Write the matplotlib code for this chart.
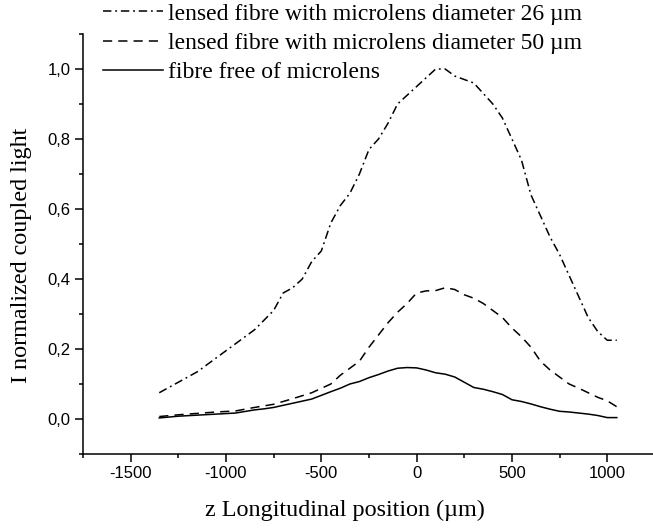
import numpy as np
import matplotlib.pyplot as plt
from matplotlib.ticker import MultipleLocator, FuncFormatter

# lensed fibre, microlens diameter 26 um
x_26 = [-1350, -1250, -1150, -1050, -1000, -950, -850, -750, -700, -650, -600,
        -550, -500, -450, -400, -350, -300, -250, -200, -150, -100, -50, 0, 50,
        100, 150, 200, 250, 300, 350, 400, 450, 500, 550, 600, 650, 700, 750,
        800, 850, 900, 950, 1000, 1050]
y_26 = [0.075, 0.105, 0.135, 0.175, 0.195, 0.215, 0.255, 0.31, 0.36, 0.375, 0.40,
        0.45, 0.48, 0.56, 0.61, 0.645, 0.70, 0.77, 0.80, 0.845, 0.90, 0.925, 0.95,
        0.975, 1.0, 1.0, 0.98, 0.97, 0.96, 0.93, 0.90, 0.86, 0.80, 0.74, 0.64,
        0.58, 0.52, 0.47, 0.41, 0.35, 0.29, 0.25, 0.225, 0.225]

# lensed fibre, microlens diameter 50 um
x_50 = [-1350, -1250, -1150, -1050, -950, -850, -750, -650, -550, -450, -400,
        -350, -300, -250, -200, -150, -100, -50, 0, 50, 100, 150, 200, 250, 300,
        350, 400, 450, 500, 550, 600, 650, 700, 750, 800, 850, 900, 950, 1000,
        1050]
y_50 = [0.007, 0.012, 0.016, 0.02, 0.023, 0.033, 0.042, 0.058, 0.075, 0.10,
        0.125, 0.145, 0.165, 0.205, 0.24, 0.275, 0.305, 0.33, 0.36, 0.366, 0.367,
        0.375, 0.37, 0.355, 0.345, 0.33, 0.31, 0.29, 0.26, 0.235, 0.205, 0.165,
        0.14, 0.12, 0.10, 0.088, 0.075, 0.062, 0.052, 0.035]

# fibre without microlens
x_free = [-1350, -1250, -1150, -1050, -950, -850, -800, -750, -650, -550, -450,
          -400, -350, -300, -250, -200, -150, -100, -50, 0, 50, 100, 150, 200,
          250, 300, 350, 400, 450, 500, 550, 600, 650, 700, 750, 800, 850, 900,
          950, 1000, 1050]
y_free = [0.003, 0.008, 0.011, 0.014, 0.017, 0.026, 0.029, 0.033, 0.045, 0.057,
          0.078, 0.088, 0.10, 0.107, 0.118, 0.127, 0.137, 0.145, 0.147, 0.146,
          0.14, 0.132, 0.128, 0.12, 0.105, 0.09, 0.085, 0.078, 0.07, 0.055, 0.05,
          0.043, 0.035, 0.028, 0.022, 0.02, 0.017, 0.014, 0.01, 0.004, 0.004]

labels = ['lensed fibre with microlens diameter 26 \u00b5m',
          'lensed fibre with microlens diameter 50 \u00b5m',
          'fibre free of microlens']

serif = ['Liberation Serif', 'DejaVu Serif']
sans = ['Liberation Sans', 'DejaVu Sans']

fig = plt.figure(figsize=(6.53, 5.29), dpi=100)
ax = fig.add_axes([0.1271, 0.1418, 0.8729, 0.7939])

l1, = ax.plot(x_26, y_26, color='black', lw=1.1, linestyle=(0, (5.5, 2.5, 1.2, 2.5)))
l2, = ax.plot(x_50, y_50, color='black', lw=1.1, linestyle=(0, (6, 4)))
l3, = ax.plot(x_free, y_free, color='black', lw=1.1, linestyle='-')

ax.set_xlim(-1750, 1240)
ax.set_ylim(-0.1, 1.1)
for s in ['top', 'right']:
    ax.spines[s].set_visible(False)
for s in ['left', 'bottom']:
    ax.spines[s].set_linewidth(1.1)

ax.xaxis.set_major_locator(MultipleLocator(500))
ax.xaxis.set_minor_locator(MultipleLocator(250))
ax.yaxis.set_major_locator(MultipleLocator(0.2))
ax.yaxis.set_minor_locator(MultipleLocator(0.1))
ax.xaxis.set_major_formatter(FuncFormatter(lambda v, p: '%d' % round(v)))
ax.yaxis.set_major_formatter(FuncFormatter(lambda v, p: ('%.1f' % v).replace('.', ',')))
ax.tick_params(which='major', direction='out', length=6, width=1.1, pad=3)
ax.tick_params(which='minor', direction='out', length=3, width=1.1)
for lab in ax.get_xticklabels() + ax.get_yticklabels():
    lab.set_family(sans)
    lab.set_fontsize(12)

ax.set_xlabel('z Longitudinal position (\u00b5m)', family=serif, fontsize=17.4)
ax.xaxis.set_label_coords(0.459, -0.108)
ax.set_ylabel('I normalized coupled light', family=serif, fontsize=17.4)
ax.yaxis.set_label_coords(-0.09, 0.474)

fig.legend([l1, l2, l3], labels, loc='upper left', bbox_to_anchor=(0.158, 0.994),
           frameon=False, prop={'family': serif, 'size': 17},
           handlelength=2.55, handletextpad=0.2, labelspacing=0.33,
           borderpad=0, borderaxespad=0)

fig.savefig('out.png', dpi=100)
